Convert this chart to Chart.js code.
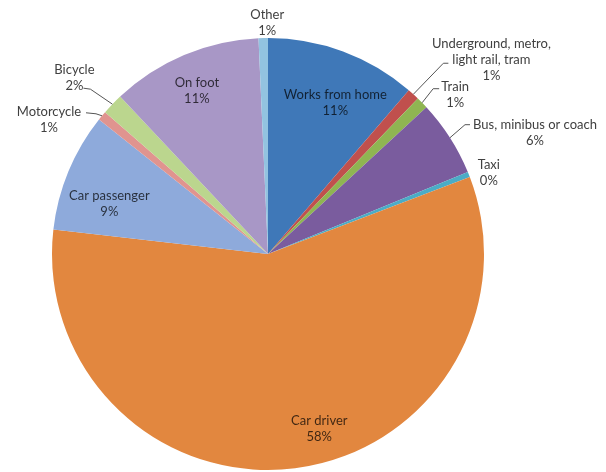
<!DOCTYPE html>
<html>
<head>
<meta charset="utf-8">
<script src="https://cdn.jsdelivr.net/npm/chart.js@4.4.0/dist/chart.umd.min.js"></script>
<style>
body{margin:0;background:#fff;}
#wrap{width:606px;height:472px;}
</style>
</head>
<body>
<div id="wrap"><canvas id="chart" width="606" height="472"></canvas></div>
<script>
// data (share of trips, %)
let categories = ["Works from home", ["Underground, metro,","light rail, tram"], "Train", "Bus, minibus or coach", "Taxi",
"Car driver", "Car passenger", "Motorcycle", "Bicycle", "On foot", "Other"];
let shares = [11.3, 0.9, 0.9, 5.7, 0.4, 57.6, 8.9, 0.7, 1.6, 11.3, 0.7];

let sliceColors = ["#3f78b8","#c0504d","#8fb552","#7a5c9e","#4bacc6","#e2873f","#8eaadb","#e0948f","#bbd68e","#a897c6","#93c3e0"];

// where each label goes: inside at a radius fraction, or outside next to the rim
// off = text block centre offset, line = elbow and end of the leader line (from rim point)
let labelPlace = [
{inside:true, r:0.75, off:[11,1]},
{off:[78,-34], line:[30,-31,35,-31]},
{off:[33,-8], line:[11,-14,17,-14]},
{off:[85,-5], line:[15,-13,20,-13]},
{off:[20,-2]},
{inside:true, r:0.86, off:[28,-9]},
{inside:true, r:0.76, off:[-7,13]},
{off:[-53,4], line:[-6,-2,-16,-3]},
{off:[-38,-26], line:[-22,-15,-29,-16]},
{inside:true, r:0.80, off:[-4,-4]},
{off:[4,-15]}
];

let pieLabels = {
id:"pieLabels",
afterDatasetsDraw(chart){
let ctx = chart.ctx;
let meta = chart.getDatasetMeta(0);
let values = chart.data.datasets[0].data;
let total = values.reduce((a,b)=>a+b,0);
ctx.save();
ctx.font = "13px Lato";
ctx.textAlign = "center";
ctx.textBaseline = "middle";
meta.data.forEach(function(arc,i){
let p = arc.getProps(["x","y","startAngle","endAngle","outerRadius"],true);
let mid = (p.startAngle + p.endAngle)/2;
let place = labelPlace[i];
let rimX = p.x + Math.cos(mid)*p.outerRadius;
let rimY = p.y + Math.sin(mid)*p.outerRadius;
let cx, cy;
if(place.inside){
cx = p.x + Math.cos(mid)*p.outerRadius*place.r + place.off[0];
cy = p.y + Math.sin(mid)*p.outerRadius*place.r + place.off[1];
ctx.fillStyle = "rgba(0,0,0,0.72)";
}
else{
cx = rimX + place.off[0];
cy = rimY + place.off[1];
ctx.fillStyle = "#404040";
}
if(place.line){
ctx.strokeStyle = "#555";
ctx.lineWidth = 1;
ctx.beginPath();
ctx.moveTo(rimX, rimY);
ctx.lineTo(rimX+place.line[0], rimY+place.line[1]);
ctx.lineTo(rimX+place.line[2], rimY+place.line[3]);
ctx.stroke();
}
let name = chart.data.labels[i];
let lines = Array.isArray(name) ? name.slice() : [name];
lines.push(Math.round(values[i]/total*100) + "%");
let lh = 16;
let top = cy - (lines.length-1)*lh/2;
lines.forEach(function(t,k){
ctx.fillText(t, cx, top + k*lh);
});
});
ctx.restore();
}
};

new Chart(document.getElementById("chart"),{
type:"pie",
data:{
labels:categories,
datasets:[{
data:shares,
backgroundColor:sliceColors,
borderWidth:0
}]
},
options:{
responsive:false,
animation:false,
layout:{padding:{top:38,bottom:2,left:0,right:70}},
plugins:{
legend:{display:false},
tooltip:{enabled:false}
}
},
plugins:[pieLabels]
});
</script>
</body>
</html>
